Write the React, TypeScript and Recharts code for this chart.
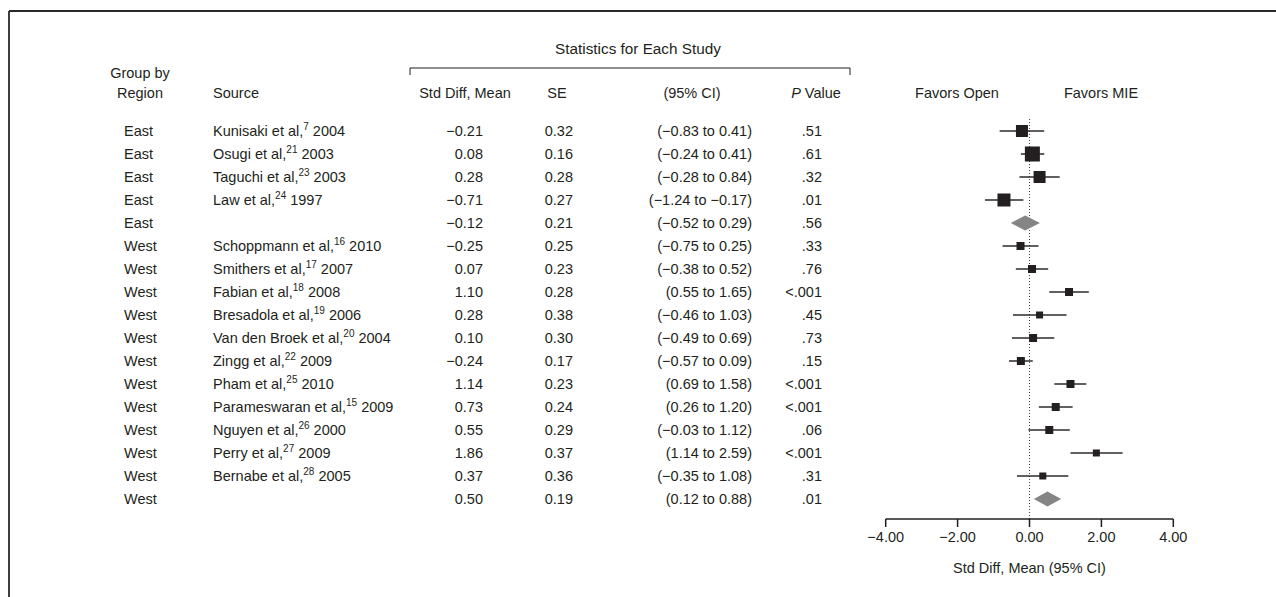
import React from 'react';
import { ComposedChart, Scatter, XAxis, YAxis, ErrorBar, ReferenceLine, Customized } from 'recharts';

// ---------- data ----------
const regions = ['East', 'East', 'East', 'East', 'East', 'West', 'West', 'West', 'West', 'West', 'West', 'West', 'West', 'West', 'West', 'West', 'West'];
const sourceNames = ['Kunisaki et al,', 'Osugi et al,', 'Taguchi et al,', 'Law et al,', '', 'Schoppmann et al,', 'Smithers et al,', 'Fabian et al,', 'Bresadola et al,', 'Van den Broek et al,', 'Zingg et al,', 'Pham et al,', 'Parameswaran et al,', 'Nguyen et al,', 'Perry et al,', 'Bernabe et al,', ''];
const refNumbers = ['7', '21', '23', '24', '', '16', '17', '18', '19', '20', '22', '25', '15', '26', '27', '28', ''];
const years = ['2004', '2003', '2003', '1997', '', '2010', '2007', '2008', '2006', '2004', '2009', '2010', '2009', '2000', '2009', '2005', ''];
const stdDiffMeans = [-0.21, 0.08, 0.28, -0.71, -0.12, -0.25, 0.07, 1.10, 0.28, 0.10, -0.24, 1.14, 0.73, 0.55, 1.86, 0.37, 0.50];
const standardErrors = [0.32, 0.16, 0.28, 0.27, 0.21, 0.25, 0.23, 0.28, 0.38, 0.30, 0.17, 0.23, 0.24, 0.29, 0.37, 0.36, 0.19];
const ciLower = [-0.83, -0.24, -0.28, -1.24, -0.52, -0.75, -0.38, 0.55, -0.46, -0.49, -0.57, 0.69, 0.26, -0.03, 1.14, -0.35, 0.12];
const ciUpper = [0.41, 0.41, 0.84, -0.17, 0.29, 0.25, 0.52, 1.65, 1.03, 0.69, 0.09, 1.58, 1.20, 1.12, 2.59, 1.08, 0.88];
const pValues = ['.51', '.61', '.32', '.01', '.56', '.33', '.76', '<.001', '.45', '.73', '.15', '<.001', '<.001', '.06', '<.001', '.31', '.01'];
const isSummary = [false, false, false, false, true, false, false, false, false, false, false, false, false, false, false, false, true];
const boxWeights = [12, 15, 12, 13, 0, 8, 8, 8, 7, 8, 8, 8, 8, 8, 7, 7, 0];
const xTicks = [-4, -2, 0, 2, 4];
const rowIndex = regions.map((_, i) => i);

// ---------- derived tables ----------
const studyData = rowIndex
  .filter((i) => !isSummary[i])
  .map((i) => ({
    x: stdDiffMeans[i],
    y: i,
    err: [stdDiffMeans[i] - ciLower[i], ciUpper[i] - stdDiffMeans[i]],
    w: boxWeights[i],
  }));

const DIAMOND_HALF = 0.33;
const summaryData = rowIndex
  .filter((i) => isSummary[i])
  .map((i) => [
    { x: ciLower[i], y: i },
    { x: stdDiffMeans[i], y: i - DIAMOND_HALF },
    { x: ciUpper[i], y: i },
    { x: stdDiffMeans[i], y: i + DIAMOND_HALF },
  ]);

// ---------- style ----------
const FONT = "'Liberation Sans', Arial, sans-serif";
const FS = 14.5;
const INK = '#231f20';

const fmt = (v: number) => (v < 0 ? '\u2212' : '') + Math.abs(v).toFixed(2);

const renderRowTick = (props: any) => {
  const { y, payload } = props;
  const i = Math.round(payload.value as number);
  const by = y + 5;
  return (
    <g key={`row-${i}`} fontFamily={FONT} fontSize={FS} fill={INK}>
      <text x={124} y={by}>{regions[i]}</text>
      {sourceNames[i] ? (
        <text x={213} y={by}>
          {sourceNames[i]}
          <tspan dy={-6} fontSize={10}>{refNumbers[i]}</tspan>
          <tspan dy={6}>{' ' + years[i]}</tspan>
        </text>
      ) : null}
      <text x={483} y={by} textAnchor="end">{fmt(stdDiffMeans[i])}</text>
      <text x={573} y={by} textAnchor="end">{standardErrors[i].toFixed(2)}</text>
      <text x={752} y={by} textAnchor="end">{`(${fmt(ciLower[i])} to ${fmt(ciUpper[i])})`}</text>
      <text x={822} y={by} textAnchor="end">{pValues[i]}</text>
    </g>
  );
};

const Headers = () => (
  <g fontFamily={FONT} fontSize={FS} fill={INK}>
    <line x1={9} y1={11} x2={1276} y2={11} stroke="#2a2a2a" strokeWidth={1.8} />
    <line x1={9} y1={11} x2={9} y2={597} stroke="#2a2a2a" strokeWidth={1.8} />
    <text x={140} y={78} textAnchor="middle">Group by</text>
    <text x={140} y={98} textAnchor="middle">Region</text>
    <text x={213} y={98}>Source</text>
    <text x={638} y={54} textAnchor="middle" fontSize={15.3}>Statistics for Each Study</text>
    <path d="M410,75 L410,68 L850,68 L850,75" fill="none" stroke={INK} strokeWidth={1} />
    <text x={465} y={98} textAnchor="middle">Std Diff, Mean</text>
    <text x={557} y={98} textAnchor="middle">SE</text>
    <text x={692} y={98} textAnchor="middle">(95% CI)</text>
    <text x={816} y={98} textAnchor="middle">
      <tspan fontStyle="italic">P</tspan> Value
    </text>
    <text x={957} y={98} textAnchor="middle">Favors Open</text>
    <text x={1101} y={98} textAnchor="middle">Favors MIE</text>
  </g>
);

const Box = (props: any) => {
  const { cx, cy, payload } = props;
  const s = payload.w;
  return <rect x={cx - s / 2} y={cy - s / 2} width={s} height={s} fill={INK} />;
};

const Diamond = (props: any) => {
  const pts = (props.points || []) as { x: number; y: number }[];
  return <polygon points={pts.map((p) => `${p.x},${p.y}`).join(' ')} fill="#858585" stroke="none" />;
};

const NoShape = () => <g />;

export default function App() {
  return (
    <div style={{ position: 'absolute', left: 0, top: 0, background: '#fff' }}>
      <ComposedChart
        width={1276}
        height={597}
        margin={{ top: 117, right: 102.7, bottom: 18, left: 884.7 }}
      >
        <Customized component={Headers} />
        <XAxis
          type="number"
          dataKey="x"
          domain={[-4, 4]}
          ticks={xTicks}
          interval={0}
          allowDataOverflow
          tickFormatter={(v: number) => fmt(v)}
          axisLine={{ stroke: INK, strokeWidth: 1.5 }}
          tickLine={{ stroke: INK, strokeWidth: 1.5 }}
          tickSize={8}
          tickMargin={5}
          height={60}
          tick={{ fill: INK, fontSize: FS, fontFamily: FONT }}
          label={{ value: 'Std Diff, Mean (95% CI)', position: 'insideBottom', offset: 6, fill: INK, fontSize: FS, fontFamily: FONT }}
        />
        <YAxis
          type="number"
          dataKey="y"
          domain={[-0.6087, 16.87]}
          allowDataOverflow
          reversed
          ticks={rowIndex}
          interval={0}
          width={1}
          axisLine={false}
          tickLine={false}
          tick={renderRowTick}
        />
        <ReferenceLine x={0} stroke="#444" strokeWidth={1} strokeDasharray="1 2" />
        {summaryData.map((d, k) => (
          <Scatter
            key={`sum-${k}`}
            data={d}
            isAnimationActive={false}
            shape={NoShape}
            line={Diamond}
            lineType="joint"
          />
        ))}
        <Scatter data={studyData} isAnimationActive={false} shape={Box}>
          <ErrorBar dataKey="err" direction="x" width={0} stroke="#2b2b2b" strokeWidth={1.5} />
        </Scatter>
      </ComposedChart>
    </div>
  );
}
